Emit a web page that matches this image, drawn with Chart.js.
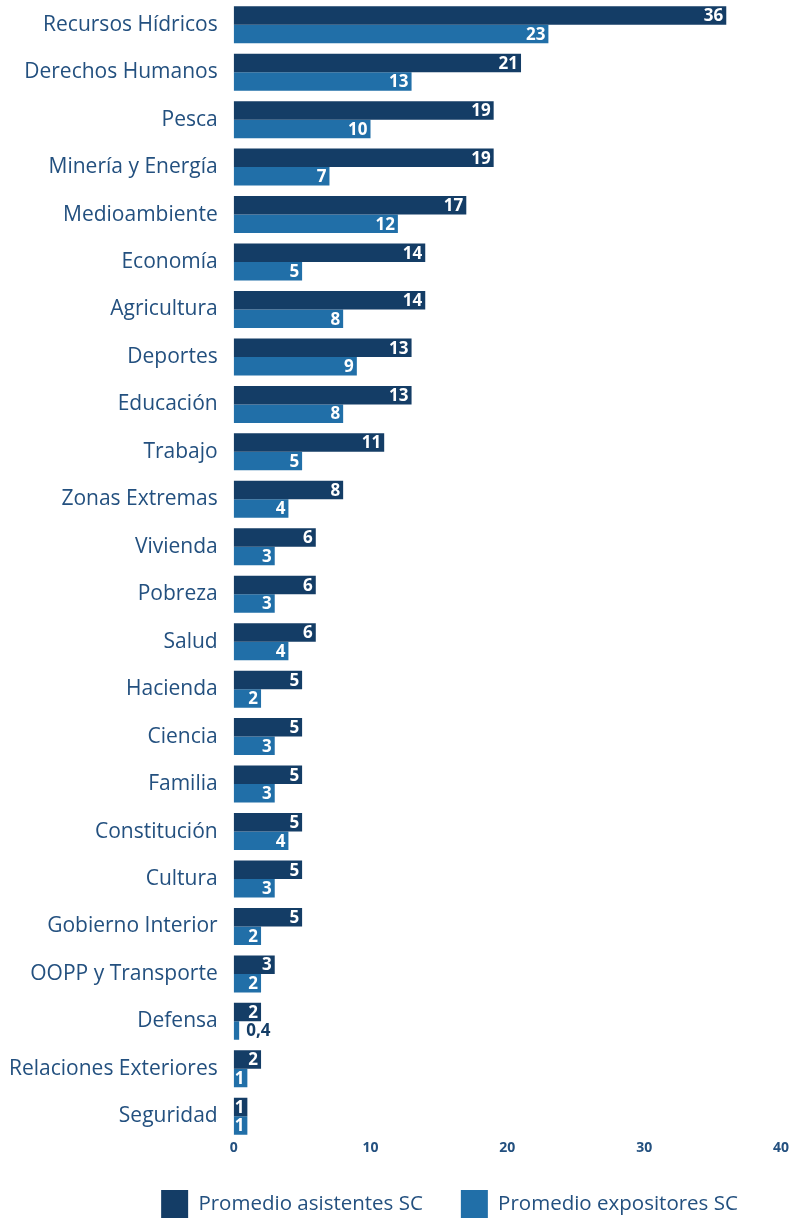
<!DOCTYPE html>
<html>
<head>
<meta charset="utf-8">
<script src="https://cdn.jsdelivr.net/npm/chart.js@4/dist/chart.umd.min.js"></script>
<style>
  html, body { margin: 0; padding: 0; background: #fff; }
  #wrap { width: 792px; height: 1220px; position: relative; }
</style>
</head>
<body>
<div id="wrap"><canvas id="barChart"></canvas></div>
<script>
// Categories and averages per commission
const categories = [
  "Recursos Hídricos", "Derechos Humanos", "Pesca", "Minería y Energía",
  "Medioambiente", "Economía", "Agricultura", "Deportes", "Educación",
  "Trabajo", "Zonas Extremas", "Vivienda", "Pobreza", "Salud", "Hacienda",
  "Ciencia", "Familia", "Constitución", "Cultura", "Gobierno Interior",
  "OOPP y Transporte", "Defensa", "Relaciones Exteriores", "Seguridad"
];

const asistentes = [36, 21, 19, 19, 17, 14, 14, 13, 13, 11, 8, 6, 6, 6, 5, 5, 5, 5, 5, 5, 3, 2, 2, 1];
const expositores = [23, 13, 10, 7, 12, 5, 8, 9, 8, 5, 4, 3, 3, 4, 2, 3, 3, 4, 3, 2, 2, 0.4, 1, 1];

const xTicks = [0, 10, 20, 30, 40];

const DARK = "#143d66";
const LIGHT = "#216fa8";
const TEXT = "#23507f";

// value labels at the end of each bar
const barLabels = {
  id: "barLabels",
  afterDatasetsDraw(chart) {
    const ctx = chart.ctx;
    ctx.save();
    ctx.font = "bold 17px 'Open Sans'";
    ctx.textBaseline = "middle";
    chart.data.datasets.forEach((ds, i) => {
      chart.getDatasetMeta(i).data.forEach((bar, j) => {
        const v = ds.data[j];
        const txt = String(v).replace(".", ",");
        const w = ctx.measureText(txt).width;
        const len = bar.x - bar.base;
        if (len > w + 2) {
          ctx.fillStyle = "#fff";
          ctx.textAlign = "right";
          ctx.fillText(txt, bar.x - 3, bar.y + 1);
        } else {
          ctx.fillStyle = DARK;
          ctx.textAlign = "left";
          ctx.fillText(txt, bar.x + 7, bar.y + 1);
        }
      });
    });
    ctx.restore();
  }
};

// nudge the legend sideways like in the original
const legendShift = {
  id: "legendShift",
  afterLayout(chart) {
    chart.legend.left += 57;
    chart.legend.right += 57;
  }
};

new Chart(document.getElementById("barChart").getContext("2d"), {
  type: "bar",
  data: {
    labels: categories,
    datasets: [
      { label: "Promedio asistentes SC", data: asistentes, backgroundColor: DARK },
      { label: "Promedio expositores SC", data: expositores, backgroundColor: LIGHT }
    ]
  },
  options: {
    indexAxis: "y",
    responsive: true,
    maintainAspectRatio: false,
    animation: false,
    layout: { padding: { left: -7, right: 0, top: 1, bottom: -8 } },
    datasets: {
      bar: { barPercentage: 1, categoryPercentage: 0.78 }
    },
    plugins: {
      tooltip: { enabled: false },
      legend: {
        position: "bottom",
        labels: {
          boxWidth: 27,
          boxHeight: 28,
          padding: 38,
          color: TEXT,
          font: { family: "'Open Sans'", size: 20.5 }
        }
      }
    },
    scales: {
      x: {
        min: 0,
        max: 40,
        afterBuildTicks: (axis) => { axis.ticks = xTicks.map(v => ({ value: v })); },
        afterFit: (axis) => { axis.height = 12; axis.paddingLeft = 0; axis.paddingRight = 11; },
        grid: { display: false, drawTicks: false },
        border: { display: false },
        ticks: {
          padding: 0,
          color: TEXT,
          font: { family: "'Open Sans'", size: 14, weight: "bold" }
        }
      },
      y: {
        afterFit: (axis) => { axis.paddingTop = 0; axis.paddingBottom = 0; },
        grid: { display: false, drawTicks: false },
        border: { display: false },
        ticks: {
          padding: 16,
          color: TEXT,
          font: { family: "'Open Sans'", size: 21 }
        }
      }
    }
  },
  plugins: [barLabels, legendShift]
});
</script>
</body>
</html>
